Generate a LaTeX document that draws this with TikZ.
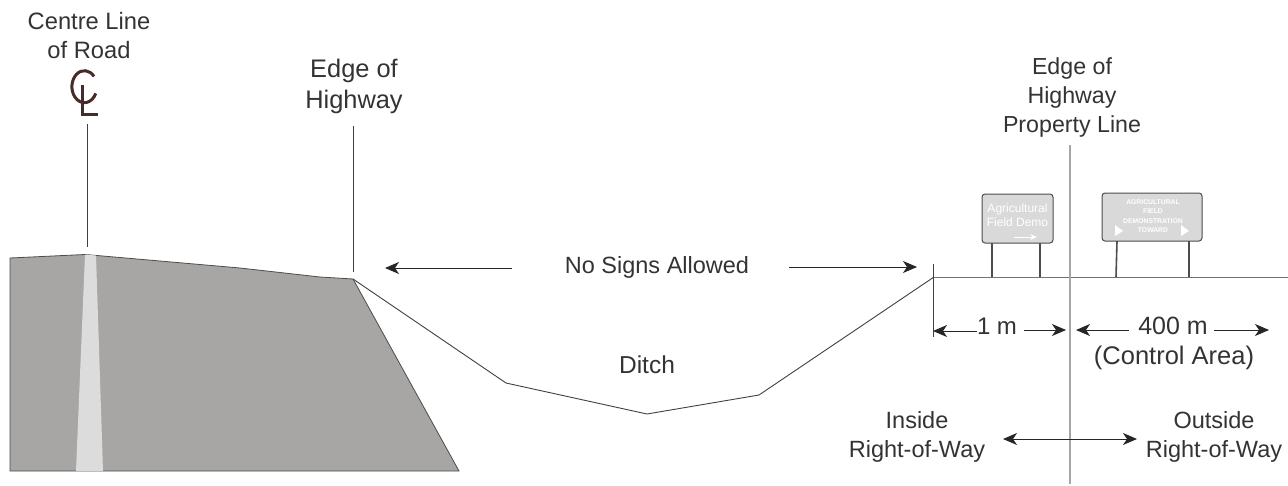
\documentclass[tikz,border=0pt]{standalone}
\usepackage{fontspec}
\setmainfont{Liberation Sans}
\usetikzlibrary{arrows.meta}
\definecolor{roadgray}{HTML}{A7A6A4}
\definecolor{stripe}{HTML}{DCDCDC}
\definecolor{signgray}{HTML}{D9D9D9}
\definecolor{clbrown}{HTML}{4A2A28}
\tikzset{
 lbl/.style={font=\fontsize{#1}{29}\selectfont,text=black!80,align=center,inner sep=0pt},
 lbl/.default=23.5,
 thinline/.style={draw=black!75,line width=0.9pt},
 graypline/.style={draw=black!35,line width=1.5pt},
 groundline/.style={draw=black!55,line width=1pt},
 arr/.style={draw=black!85,line width=1pt,-{Stealth[length=14pt,width=12pt,inset=4pt]}},
 arrb/.style={draw=black!85,line width=1pt,{Stealth[length=14pt,width=12pt,inset=4pt]}-{Stealth[length=14pt,width=12pt,inset=4pt]}},
 signbox/.style={draw=black!70,fill=signgray,line width=1pt,rounded corners=3pt},
 post/.style={draw=black!70,line width=1.6pt},
 signtext/.style={inner sep=0pt,text=white,align=center}
}
\begin{document}
\begin{tikzpicture}[x=1pt,y=-1pt]
\useasboundingbox (0,0) rectangle (1288,485);
% road
\path[fill=roadgray,draw=black!70,line width=0.8pt] (10,258) -- (85,254.5) -- (97,255.5) -- (240,268) -- (320,277) -- (353,279) -- (459,471) -- (10,471) -- cycle;
\path[fill=stripe] (85,254.5) -- (96,255.5) -- (103,471) -- (76,471) -- cycle;
% ditch
\coordinate (edgeH) at (353,279);
\coordinate (d1) at (506,383);
\coordinate (d2) at (647,414);
\coordinate (d3) at (759,395);
\coordinate (d4) at (934,277);
\draw[thinline] (edgeH) -- (d1) -- (d2) -- (d3) -- (d4);
% ground
\coordinate (g2) at (1288,277);
\draw[groundline] (d4) -- (g2);
\coordinate (t1) at (933,264);
\coordinate (t2) at (933,337);
\draw[thinline] (t1) -- (t2);
% verticals
\coordinate (cA) at (87,124);
\coordinate (cB) at (87,247);
\draw[thinline] (cA) -- (cB);
\coordinate (eA) at (353,126);
\coordinate (eB) at (353,272);
\draw[thinline] (eA) -- (eB);
\coordinate (pA) at (1070,145);
\coordinate (pB) at (1070,484);
\draw[graypline] (pA) -- (pB);
% labels
\node[lbl=23.7] (centre) at (89,36) {Centre Line\\of Road};
\node[lbl=25.4] (edge1) at (354,86) {Edge of\\[2pt]Highway};
\node[lbl=23.2] (edge2) at (1072,97) {Edge of\\Highway\\Property Line};
\node[lbl] (nosigns) at (657,267) {No Signs Allowed};
\node[lbl=24.5] (ditch) at (647,365) {Ditch};
\node[lbl=24] (onem) at (997,326) {1 m};
\node[lbl=25] (fourh) at (1173,326) {400 m};
\node[lbl=25.5] (ctrl) at (1174,358) {(Control Area)};
\node[lbl] (inside) at (917,437) {Inside\\Right-of-Way};
\node[lbl] (outside) at (1214,437) {Outside\\Right-of-Way};
% CL symbol
\draw[draw=clbrown,line width=3pt] (94,76.4) arc[start angle=-40,end angle=-335,x radius=12.5,y radius=16];
\draw[draw=clbrown,line width=3pt] (82,85) -- (82,114) -- (98,114);
% arrows
\coordinate (a1) at (512,268); \coordinate (a2) at (385,268);
\draw[arr] (a1) -- (a2);
\coordinate (a3) at (789,267); \coordinate (a4) at (917,267);
\draw[arr] (a3) -- (a4);
\coordinate (b2) at (933,331);
\draw[arr] (977,331) -- (b2);
\coordinate (b3) at (1066,330);
\draw[arr] (1024,330) -- (b3);
\coordinate (c1) at (1076,330);
\draw[arr] (1129,330) -- (c1);
\coordinate (c2) at (1269,330);
\draw[arr] (1214,330) -- (c2);
\coordinate (i1) at (1003,439); \coordinate (i2) at (1137,439);
\draw[arrb] (i1) -- (i2);
% signs
\draw[post] (992,243) -- (992,277);
\draw[post] (1040,243) -- (1040,277);
\draw[post] (1117,241) -- (1116,277);
\draw[post] (1189,241) -- (1189,277);
\node[signbox,minimum width=71pt,minimum height=49pt] (s1) at (1017.5,218.5) {};
\node[signbox,minimum width=100pt,minimum height=48pt] (s2) at (1152,217) {};
\node[signtext,font=\fontsize{12}{14.5}\selectfont] at (1017.5,215) {Agricultural\\Field Demo};
\draw[white,line width=1pt,-{Stealth[length=7pt,width=6pt]}] (1014,237) -- (1037,237);
\node[signtext,font=\fontsize{6.8}{9.5}\selectfont\bfseries] at (1153,216) {AGRICULTURAL\\FIELD\\DEMONSTRATION\\TOWARD};
\fill[white] (1115,225) -- (1123,231) -- (1115,236) -- cycle;
\fill[white] (1181,225) -- (1189,231) -- (1181,236) -- cycle;
\end{tikzpicture}
\end{document}
